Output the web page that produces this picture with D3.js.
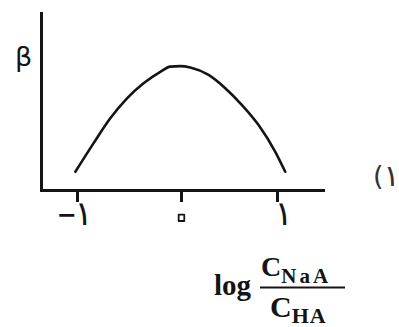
<!DOCTYPE html>
<html>
<head>
<meta charset="utf-8">
<script src="https://cdn.jsdelivr.net/npm/d3@7"></script>
<style>
  html, body { margin: 0; padding: 0; background: #fff; }
  svg { display: block; }
</style>
</head>
<body>
<div id="chart"></div>
<script>
// ---- data ----
const xValues    = [-1.016, -0.84, -0.68, -0.519, -0.36, -0.199, -0.103, -0.007, 0.097, 0.2875, 0.461, 0.635, 0.808, 0.982, 1.086];
const betaValues = [ 0.103,  0.265, 0.405, 0.518, 0.603, 0.668, 0.697, 0.700, 0.692, 0.650, 0.575, 0.480, 0.367, 0.216, 0.103];
const tickValues = [-1, 0, 1];
const tickSigns  = ["−", "", ""];
const tickDigits = ["١", "٠", "١"];
const yLabel = "β";
const sideLabel = ["(", "١"];

const W = 399, H = 327;
const ink = "#141414";

const svg = d3.select("#chart").append("svg")
  .attr("width", W).attr("height", H)
  .style("background", "#fff");

// polylinear x scale (the axis spacing in the picture is slightly uneven)
const x = d3.scaleLinear().domain([-1.346, 0, 1.479]).range([41, 181, 323]);
const y = d3.scaleLinear().domain([0, 1]).range([190, 13]);

// x axis
const gx = svg.append("g").attr("transform", `translate(0,${y(0)})`)
  .call(d3.axisBottom(x).tickValues(tickValues).tickSize(12).tickSizeOuter(0)
        .tickFormat(() => ""));
gx.select(".domain").attr("stroke", ink).attr("stroke-width", 3).attr("stroke-linecap", "square");
gx.selectAll(".tick line").attr("stroke", ink).attr("stroke-width", 3);
gx.selectAll(".tick text").each(function(d, i) {
  const t = d3.select(this)
    .attr("y", 35).attr("dy", 0)
    .attr("fill", ink)
    .attr("text-anchor", "start")
    .style("font-family", "DejaVu Sans")
    .style("direction", "ltr")
    .style("unicode-bidi", "bidi-override");
  if (tickSigns[i]) {
    t.attr("x", -21);
    t.append("tspan").style("font-size", "24px").style("font-weight", "bold").attr("dy", -2).text(tickSigns[i]);
    t.append("tspan").style("font-size", "34px").attr("dx", -2).attr("dy", 2).text(tickDigits[i]);
  } else if (d === 0) {
    t.attr("text-anchor", "middle").attr("x", 0).attr("y", 42)
      .attr("fill", "#fff").attr("stroke", ink).attr("stroke-width", 1.8)
      .attr("stroke-linejoin", "round")
      .style("font-size", "52px").text(tickDigits[i]);
  } else {
    t.attr("x", -3).style("font-size", "34px").text(tickDigits[i]);
  }
});

// y axis
const gy = svg.append("g").attr("transform", `translate(${x.range()[0]},0)`)
  .call(d3.axisLeft(y).tickValues([]).tickSizeOuter(0));
gy.select(".domain").attr("stroke", ink).attr("stroke-width", 3).attr("stroke-linecap", "square");

// curve
const line = d3.line()
  .x((d, i) => x(xValues[i]))
  .y((d, i) => y(betaValues[i]))
  .curve(d3.curveMonotoneX);
svg.append("path")
  .datum(xValues)
  .attr("d", line)
  .attr("fill", "none")
  .attr("stroke", ink)
  .attr("stroke-width", 2.6)
  .attr("stroke-linecap", "round");

// y label
svg.append("text")
  .attr("x", 15).attr("y", 66)
  .attr("fill", ink)
  .style("font-family", "DejaVu Sans")
  .style("font-size", "27px")
  .text(yLabel);

// side label
const side = svg.append("text")
  .attr("x", 373).attr("y", 185)
  .attr("fill", "#333")
  .style("font-family", "DejaVu Sans")
  .style("direction", "ltr")
  .style("unicode-bidi", "bidi-override");
side.append("tspan").style("font-size", "27px").text(sideLabel[0]);
side.append("tspan").style("font-size", "30px").attr("dx", 0).attr("dy", 1).text(sideLabel[1]);

// x axis title: log (C_NaA / C_HA)
const serif = "Liberation Serif";
const title = svg.append("g").attr("fill", ink)
  .style("font-family", serif).style("font-weight", "bold");
title.append("text").attr("x", 214).attr("y", 295)
  .style("font-size", "29px").text("log");
title.append("line")
  .attr("x1", 260).attr("x2", 345).attr("y1", 287.5).attr("y2", 287.5)
  .attr("stroke", ink).attr("stroke-width", 2);
const num = title.append("text").attr("x", 261).attr("y", 276).style("font-size", "28px");
num.append("tspan").text("C");
num.append("tspan").attr("dy", 7).style("font-size", "21px").style("letter-spacing", "3px").text("NaA");
const den = title.append("text").attr("x", 270).attr("y", 317).style("font-size", "30px");
den.append("tspan").text("C");
den.append("tspan").attr("dy", 6).style("font-size", "22px").style("letter-spacing", "1px").text("HA");
</script>
</body>
</html>
